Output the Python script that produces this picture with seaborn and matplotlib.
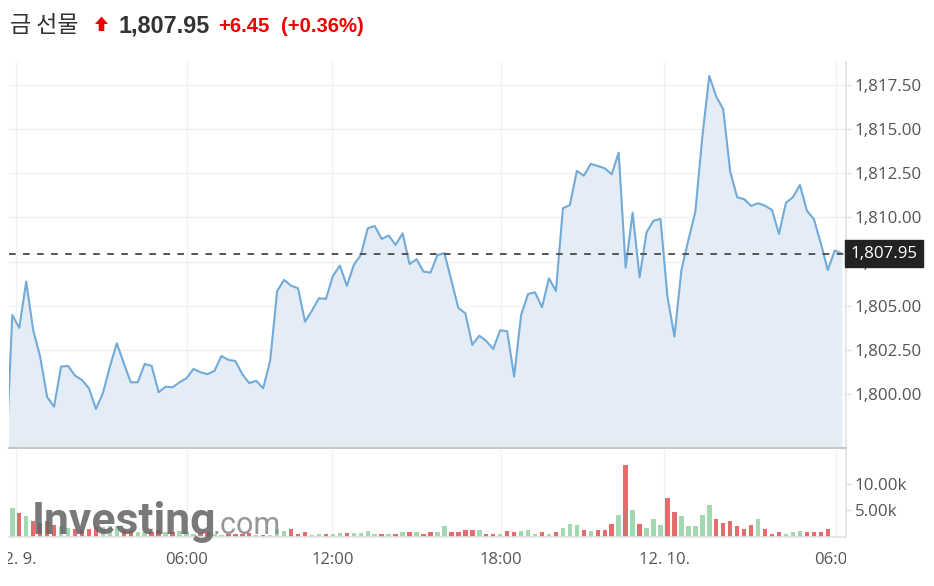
import numpy as np
import pandas as pd
import matplotlib.pyplot as plt
import seaborn as sns
from matplotlib.patches import Polygon
from matplotlib.transforms import Bbox, TransformedBbox

# Gold futures, 15-min closes
price = [
    1795.47, 1804.47, 1803.74, 1806.36, 1803.62, 1802.11, 1799.83, 1799.28, 1801.55, 1801.59,
    1801.04, 1800.79, 1800.32, 1799.15, 1800.04, 1801.55, 1802.87, 1801.74, 1800.66, 1800.66,
    1801.70, 1801.59, 1800.10, 1800.41, 1800.38, 1800.66, 1800.89, 1801.42, 1801.23, 1801.12,
    1801.30, 1802.15, 1801.93, 1801.87, 1801.12, 1800.61, 1800.75, 1800.32, 1801.89, 1805.83,
    1806.46, 1806.13, 1805.99, 1804.09, 1804.72, 1805.42, 1805.38, 1806.68, 1807.27, 1806.12,
    1807.31, 1807.87, 1809.38, 1809.51, 1808.78, 1808.97, 1808.44, 1809.10, 1807.36, 1807.63,
    1806.93, 1806.87, 1807.87, 1807.97, 1806.42, 1804.87, 1804.57, 1802.78, 1803.30, 1803.00,
    1802.55, 1803.61, 1803.55, 1800.98, 1804.47, 1805.66, 1805.76, 1804.91, 1806.55, 1805.83,
    1810.52, 1810.70, 1812.63, 1812.36, 1813.03, 1812.91, 1812.78, 1812.44, 1813.67, 1807.15,
    1810.27, 1806.61, 1809.16, 1809.81, 1809.91, 1805.51, 1803.25, 1807.02, 1808.72, 1810.32,
    1814.57, 1818.01, 1816.84, 1816.12, 1812.59, 1811.14, 1811.03, 1810.65, 1810.80, 1810.66,
    1810.42, 1809.06, 1810.83, 1811.14, 1811.84, 1810.38, 1809.91, 1808.53, 1807.02, 1808.12,
    1807.95,
]

# volume in thousands
volume_k = [
    1.5, 5.5, 4.5, 3.9, 3.1, 2.6, 3.1, 2.2, 2.0, 1.7,
    1.6, 1.4, 1.6, 1.8, 1.8, 2.0, 2.1, 1.2, 1.2, 0.9,
    0.9, 0.9, 1.4, 0.9, 0.9, 1.1, 0.9, 0.6, 0.8, 0.9,
    0.5, 0.4, 0.5, 0.6, 0.6, 0.7, 0.4, 0.4, 0.4, 1.5,
    1.1, 1.5, 0.6, 0.9, 0.3, 0.6, 0.6, 0.6, 0.8, 0.8,
    0.7, 0.7, 1.1, 0.6, 0.6, 0.6, 0.6, 0.9, 0.9, 0.9,
    0.6, 0.9, 0.9, 2.0, 0.9, 0.9, 1.4, 1.4, 1.4, 0.6,
    0.6, 0.6, 1.1, 0.9, 1.1, 1.4, 0.6, 0.9, 0.6, 0.9,
    1.7, 2.5, 2.2, 1.4, 1.1, 1.4, 1.4, 2.5, 4.2, 13.5,
    5.0, 2.5, 1.7, 3.3, 2.2, 7.3, 4.7, 3.9, 2.1, 2.1,
    4.2, 6.1, 3.3, 2.7, 3.0, 2.1, 1.5, 2.2, 3.3, 1.5,
    0.6, 0.9, 0.6, 0.9, 1.1, 0.9, 0.9, 0.9, 1.5, 0.0,
    0.0,
]

time_tick_pos = [1.49, 26.03, 46.92, 71.08, 94.55, 119.14]
time_tick_labels = ['12. 9.', '06:00', '12:00', '18:00', '12. 10.', '06:00']
price_ticks = [1800.0, 1802.5, 1805.0, 1807.5, 1810.0, 1812.5, 1815.0, 1817.5]
volume_ticks = [5, 10]

title_name = '금 선물'
last_price = 1807.95
change_txt = '+6.45'
change_pct_txt = '(+0.36%)'

W, H = 934, 586
sns.set_theme(style='white')
plt.rcParams['font.family'] = ['Open Sans', 'DejaVu Sans']
plt.rcParams['lines.scale_dashes'] = False

df = pd.DataFrame({'idx': np.arange(len(price)), 'price': price, 'volume': volume_k})
df['dir'] = np.where(df['price'].diff().fillna(1) >= 0, 'up', 'down')

fig = plt.figure(figsize=(W / 100, H / 100), dpi=100)
ax = fig.add_axes([9 / W, 1 - 448 / H, (845.7 - 9) / W, (448 - 62) / H])
axv = fig.add_axes([9 / W, 1 - 537 / H, (845.7 - 9) / W, (537 - 450) / H])

grid_c = '#f0f1f3'
axis_c = '#e0e3ea'
label_c = '#555555'

# ---- price panel ----
ax.fill_between(df['idx'], df['price'], 1790, color='#e4edf5', lw=0, zorder=1)
sns.lineplot(data=df, x='idx', y='price', ax=ax, color='#72aad8', lw=1.5, zorder=3)
ax.axhline(last_price, color='#555555', lw=1.4, dashes=(4.8, 5.3), zorder=4)

ax.set_xlim(0.53, 120.57)
ax.set_ylim(1796.94, 1818.8)
ax.set_xticks(time_tick_pos)
ax.set_yticks(price_ticks)
ax.set_yticklabels([f'{v:,.2f}' for v in price_ticks])
ax.yaxis.tick_right()
ax.tick_params(axis='x', length=0, labelbottom=False)
ax.tick_params(axis='y', length=3.6, width=1, color=axis_c, labelcolor=label_c,
               labelsize=12.2, pad=3)
ax.grid(True, color=grid_c, lw=1)
ax.set_axisbelow(True)
ax.set_xlabel('')
ax.set_ylabel('')
for s in ['top', 'left']:
    ax.spines[s].set_visible(False)
ax.spines['right'].set_color(axis_c)
ax.spines['bottom'].set_color('#c8c8c8')
ax.spines['bottom'].set_linewidth(1.5)

ax.annotate(f'{last_price:,.2f}', xy=(1, last_price), xycoords=('axes fraction', 'data'),
            xytext=(3.5, 0), textcoords='offset points', ha='left', va='center',
            color='white', fontsize=12.2,
            bbox=dict(boxstyle='square,pad=0.32', fc='#222222', ec='#222222'),
            annotation_clip=False, zorder=10)

# ---- volume panel ----
sns.barplot(data=df, x='idx', y='volume', hue='dir',
            palette={'up': '#a3d8b0', 'down': '#e46c6c'},
            native_scale=True, dodge=False, width=0.64, saturation=1,
            errorbar=None, legend=False, linewidth=0, ax=axv)

axv.set_xlim(0.53, 120.57)
axv.set_ylim(0, 16.4)
axv.set_xticks(time_tick_pos)
axv.set_xticklabels(time_tick_labels)
axv.set_yticks(volume_ticks)
axv.set_yticklabels([f'{v:.2f}k' for v in volume_ticks])
axv.yaxis.tick_right()
axv.tick_params(axis='x', length=7.5, width=1, color=axis_c, labelcolor=label_c,
                labelsize=12, pad=3)
axv.tick_params(axis='y', length=3.6, width=1, color=axis_c, labelcolor=label_c,
                labelsize=12.2, pad=3)
axv.grid(True, axis='x', color=grid_c, lw=1)
axv.set_axisbelow(True)
axv.set_xlabel('')
axv.set_ylabel('')
for s in ['top', 'left']:
    axv.spines[s].set_visible(False)
axv.spines['right'].set_color(axis_c)
axv.spines['bottom'].set_color(axis_c)
axv.spines['bottom'].set_linewidth(1.2)

# x labels are cut at the edges of the plot area
clip = TransformedBbox(Bbox([[8 / W, 0], [845.7 / W, 1]]), fig.transFigure)
for lbl in axv.get_xticklabels():
    lbl.set_clip_box(clip)
    lbl.set_clip_on(True)

# ---- watermark ----
fig.text(32 / W, 1 - 534 / H, 'Investing', fontsize=32, fontweight='bold',
         family='Roboto', color='#666666', alpha=0.88, va='baseline', zorder=5)
fig.text(213 / W, 1 - 534 / H, '.com', fontsize=22, family='Roboto',
         color='#888888', alpha=0.88, va='baseline', zorder=5)

# ---- header ----
base = 1 - 32 / H
fig.text(10 / W, base, title_name, family=['Noto Sans CJK KR', 'DejaVu Sans'],
         fontsize=16.5, color='#333333', va='baseline')
arrow_px = [(95, 24), (101.5, 16.5), (108, 24), (104.3, 24), (104.3, 31), (98.7, 31), (98.7, 24)]
fig.patches.append(Polygon([(x / W, 1 - y / H) for x, y in arrow_px], closed=True,
                           transform=fig.transFigure, fc='#ee0000', ec='none'))
fig.text(118 / W, base, f'{last_price:,.2f}', family='Liberation Sans',
         fontweight='bold', fontsize=16.8, color='#333333', va='baseline')
fig.text(218 / W, base, change_txt, family='Liberation Sans', fontweight='bold',
         fontsize=14.6, color='#ee0000', va='baseline')
fig.text(281 / W, base, change_pct_txt, family='Liberation Sans', fontweight='bold',
         fontsize=14.6, color='#ee0000', va='baseline')

fig.savefig('out.png', dpi=100, facecolor='white')
